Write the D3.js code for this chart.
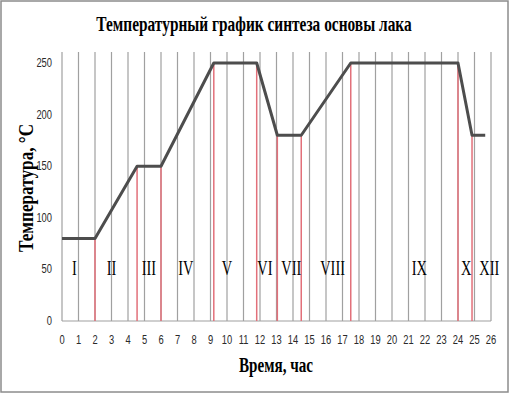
<!DOCTYPE html>
<html>
<head>
<meta charset="utf-8">
<script src="https://cdn.jsdelivr.net/npm/d3@7"></script>
<style>
  body { margin: 0; background: #fff; }
  svg { display: block; }
</style>
</head>
<body>
<script>
const svgWidth = 510;
const svgHeight = 396;

// temperature profile (hours, °C)
const hours = [0, 2, 4.55, 6, 9.2, 11.8, 13.05, 14.5, 17.5, 24, 24.85, 25.65];
const temps = [80, 80, 150, 150, 250, 250, 180, 180, 250, 250, 180, 180];

// red stage boundaries
const stageHours = [2, 4.55, 6, 9.2, 11.8, 13.05, 14.5, 17.5, 24, 24.85];
const stageTemps = [80, 150, 150, 250, 250, 180, 180, 250, 250, 180];

// stage labels
const stageNames = ['I', 'II', 'III', 'IV', 'V', 'VI', 'VII', 'VIII', 'IX', 'X', 'XII'];
const stageNamePos = [0.75, 3, 5.27, 7.5, 10, 12.3, 13.9, 16.4, 21.65, 24.5, 25.9];

const xTicks = d3.range(0, 27);
const yTicks = [0, 50, 100, 150, 200, 250];

const plotTop = 52;
const x = d3.scaleLinear().domain([0, 26]).range([62, 491]);
const y = d3.scaleLinear().domain([0, 250]).range([321, 63]);

const svg = d3.select('body').append('svg').attr('width', svgWidth).attr('height', svgHeight);

svg.append('rect').attr('x', 1).attr('y', 1).attr('width', 507).attr('height', 391)
    .style('fill', '#fff').style('stroke', '#8c8c8c').style('stroke-width', 1.5);

// condensed text helper (the reference is squeezed horizontally)
function label(g, tx, ty, txt, opts) {
    return g.append('text')
        .attr('transform', `translate(${tx},${ty}) ${opts.rotate ? 'rotate(-90)' : ''} scale(${opts.sx || 0.75},1)`)
        .text(txt)
        .style('font-family', opts.family || 'Liberation Serif, Times New Roman, serif')
        .style('font-size', opts.size + 'px')
        .style('font-weight', opts.bold ? 'bold' : 'normal')
        .style('fill', opts.fill || '#000')
        .style('text-anchor', opts.anchor || 'middle');
}

// vertical gridlines
svg.selectAll('line.grid').data(xTicks).enter().append('line').classed('grid', true)
    .attr('x1', d => x(d)).attr('x2', d => x(d))
    .attr('y1', plotTop).attr('y2', y(0))
    .style('stroke', '#a0a0a0').style('stroke-width', 1.2);

// x axis line
svg.append('line').attr('x1', x(0)).attr('x2', x(26)).attr('y1', y(0)).attr('y2', y(0))
    .style('stroke', '#a0a0a0').style('stroke-width', 1.2);

// red stage lines
svg.selectAll('line.stage').data(stageHours).enter().append('line').classed('stage', true)
    .attr('x1', d => x(d)).attr('x2', d => x(d))
    .attr('y1', (d, i) => y(stageTemps[i])).attr('y2', y(0))
    .style('stroke', '#e2707a').style('stroke-width', 1.5);

// temperature line
const line = d3.line().x((d, i) => x(hours[i])).y(d => y(d));
svg.append('path').datum(temps).attr('d', line)
    .style('fill', 'none').style('stroke', '#4d4d4d').style('stroke-width', 3)
    .style('stroke-linejoin', 'round');

// stage names
stageNames.forEach((s, i) => {
    label(svg, x(stageNamePos[i]), 275, s, { size: 20, sx: 0.72 });
});

// tick labels
xTicks.forEach(d => {
    label(svg, x(d), 344, d, { size: 13, sx: 0.72, family: 'Liberation Sans, Arial, sans-serif', fill: '#2a2a2a' });
});
yTicks.forEach(d => {
    label(svg, 52, y(d) + 4, d, { size: 13, sx: 0.72, family: 'Liberation Sans, Arial, sans-serif', fill: '#2a2a2a', anchor: 'end' });
});

// titles
label(svg, 254, 31, 'Температурный график синтеза основы лака', { size: 22, bold: true, sx: 0.7 });
label(svg, 276, 372, 'Время, час', { size: 21, bold: true, sx: 0.72 });
label(svg, 33, 188, 'Температура, °С', { size: 20, bold: true, sx: 0.86, rotate: true });
</script>
</body>
</html>
